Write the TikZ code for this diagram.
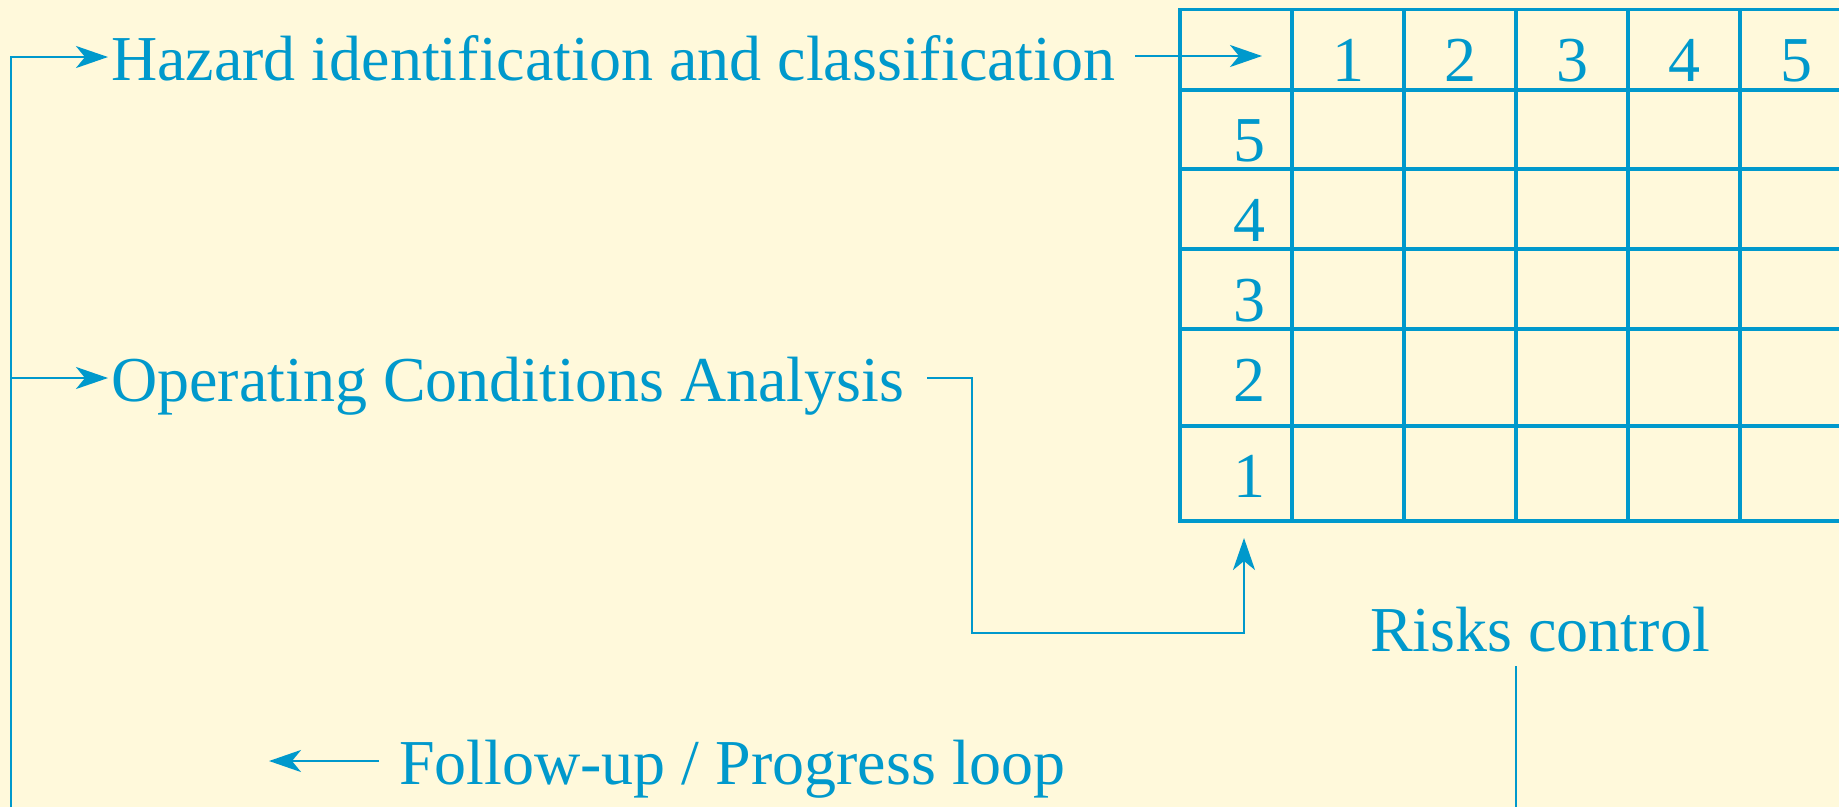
\documentclass[tikz,border=0pt]{standalone}
\usepackage{fontspec}
\setmainfont{Liberation Serif}
\usetikzlibrary{arrows.meta,calc}
\definecolor{bg}{RGB}{255,249,219}
\definecolor{ink}{RGB}{0,153,204}
\begin{document}
\begin{tikzpicture}[x=1pt,y=1pt,
  lbl/.style={inner sep=0pt, anchor=base west, text=ink, font=\fontsize{64}{72}\selectfont},
  num/.style={inner sep=0pt, anchor=base, text=ink, font=\fontsize{64}{72}\selectfont},
  conn/.style={draw=ink, line width=2.7pt},
  tip/.style={-{Stealth[length=32pt,width=22pt,inset=9pt]}},
  gridline/.style={draw=ink, line width=3.2pt, line cap=rect}]
\fill[bg] (0,0) rectangle (1839,-807);
\useasboundingbox (0,0) rectangle (1839,-807);

% texts
\node[lbl] (haz) at (111,-80) {Hazard identification and classification};
\node[lbl] (oca) at (111,-401) {Operating Conditions Analysis};
\node[lbl] (fup) at (399,-784) {Follow-up / Progress loop};
\node[num] (risk) at (1540,-651) {Risks control};

% grid
\foreach \y in {-9.5,-90,-169,-249,-329,-426,-521}
  \draw[gridline] (1180,\y) -- (1845,\y);
\foreach \x in {1180,1292,1404,1516,1628,1740}
  \draw[gridline] (\x,-9.5) -- (\x,-521);
\foreach \n/\x in {1/1348,2/1460,3/1572,4/1684,5/1796}
  \node[num] (c\n) at (\x,-81) {\n};
\foreach \n/\y in {5/161,4/241,3/321,2/401,1/497}
  \node[num] (r\n) at (1249,-\y) {\n};

% coordinates
\coordinate (loopbot) at (11,-807);
\coordinate (hazin) at ($(haz.base west)+(-3,23)$);
\coordinate (ocain) at ($(oca.base west)+(-3,23)$);
\coordinate (hazout) at ($(haz.base east)+(20,24)$);
\coordinate (gridin) at (1262,-56);
\coordinate (ocaout) at ($(oca.base east)+(23,23)$);
\coordinate (bend) at (972,-633);
\coordinate (rbelow) at (1244,-538);
\coordinate (risktop) at (1516,-666);
\coordinate (riskbot) at (1516,-807);
\coordinate (fupout) at ($(fup.base west)+(-20,23)$);
\coordinate (fupend) at ($(fupout)+(-110,0)$);

% connectors
\draw[conn,tip] (loopbot) |- (hazin);
\draw[conn,tip] (loopbot |- ocain) -- (ocain);
\draw[conn,tip] (hazout) -- (gridin);
\draw[conn,tip] (ocaout) -| (bend) -| (rbelow);
\draw[conn] (risktop) -- (riskbot);
\draw[conn,tip] (fupout) -- (fupend);
\end{tikzpicture}
\end{document}
